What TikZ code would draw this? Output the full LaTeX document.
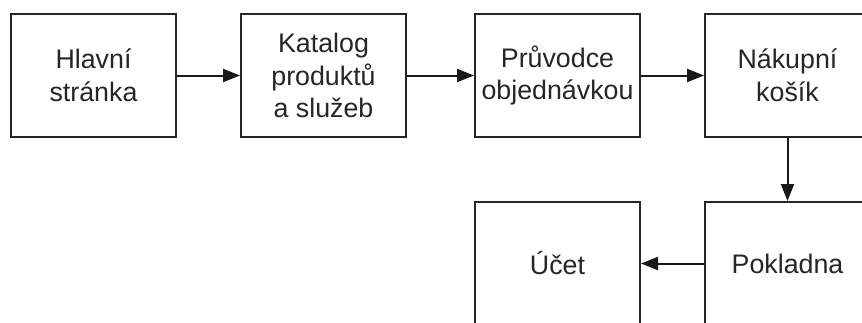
\documentclass[tikz,border=0pt]{standalone}
\usepackage{fontspec}
\setmainfont{Liberation Sans}
\usetikzlibrary{arrows.meta}
\begin{document}
\begin{tikzpicture}[x=1pt,y=-1pt,
  blk/.style={draw=black!85, line width=2pt, minimum width=165pt, minimum height=123pt,
    inner sep=0pt, align=center, text=black!85,
    font=\fontsize{26.8pt}{32.5pt}\selectfont},
  conn/.style={draw=black!90, line width=2pt, -{Triangle[length=17pt,width=13pt]}}]
\useasboundingbox (0,0) rectangle (862,322);
\clip (0,0) rectangle (862,322);
\fill[white] (0,0) rectangle (862,322);
\node[blk] (home) at (93.5,75.5) {Hlavní\\stránka};
\node[blk] (cat) at (323.5,75.5) {Katalog\\produktů\\a služeb};
\node[blk] (wiz) at (557.5,75.5) {Průvodce\\objednávkou};
\node[blk] (cart) at (787.5,75.5) {Nákupní\\košík};
\node[blk] (pay) at (787.5,263.5) {Pokladna};
\node[blk] (acc) at (557.5,263.5) {Účet};
\draw[conn] (home) -- (cat);
\draw[conn] (cat) -- (wiz);
\draw[conn] (wiz) -- (cart);
\draw[conn] (cart) -- (pay);
\draw[conn] (pay) -- (acc);
\end{tikzpicture}
\end{document}
